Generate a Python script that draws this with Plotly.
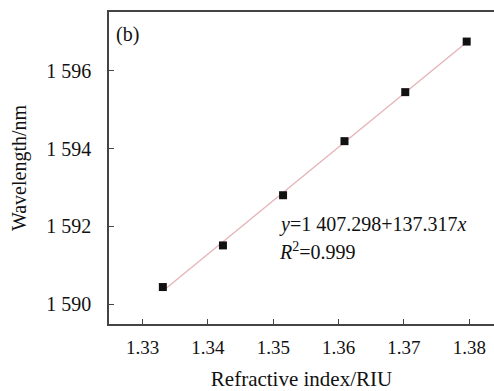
import numpy as np
import plotly.graph_objects as go

refractive_index = [1.3331, 1.3423, 1.3515, 1.3609, 1.3702, 1.3796]
wavelength = [1590.44, 1591.51, 1592.80, 1594.19, 1595.45, 1596.75]

x_tickvals = [1.33, 1.34, 1.35, 1.36, 1.37, 1.38]
x_ticktext = ["1.33", "1.34", "1.35", "1.36", "1.37", "1.38"]
y_tickvals = [1590, 1592, 1594, 1596]
y_ticktext = ["1 590", "1 592", "1 594", "1 596"]

slope, intercept = np.polyfit(refractive_index, wavelength, 1)
fit_x = np.array([refractive_index[0], refractive_index[-1]])
fit_y = intercept + slope * fit_x

font = "Liberation Serif"
axis_color = "#444444"

fig = go.Figure()
fig.add_trace(go.Scatter(x=fit_x, y=fit_y, mode="lines",
                         line=dict(color="#e6b3b8", width=1.3), showlegend=False))
fig.add_trace(go.Scatter(x=refractive_index, y=wavelength, mode="markers",
                         marker=dict(symbol="square", size=8, color="#111111"),
                         showlegend=False))

fig.update_layout(
    width=494, height=391,
    margin=dict(l=109, r=0, t=12, b=67),
    plot_bgcolor="white", paper_bgcolor="white",
    font=dict(family=font, size=20, color="#111111"),
    xaxis=dict(range=[1.32486, 1.38378], tickvals=x_tickvals, ticktext=x_ticktext,
               ticks="inside", ticklen=5, tickwidth=1.3, tickcolor=axis_color,
               showline=True, linecolor=axis_color, linewidth=1.5, mirror=True,
               showgrid=False, zeroline=False,
               tickfont=dict(family=font, size=19),
               title=dict(text="Refractive index/RIU", font=dict(family=font, size=21), standoff=15),
               ticklabelstandoff=5),
    yaxis=dict(range=[1589.49, 1597.51], tickvals=y_tickvals, ticktext=y_ticktext,
               ticks="inside", ticklen=5, tickwidth=1.3, tickcolor=axis_color,
               showline=True, linecolor=axis_color, linewidth=1.5, mirror=False,
               showgrid=False, zeroline=False,
               tickfont=dict(family=font, size=20),
               title=dict(text="Wavelength/nm", font=dict(family=font, size=20), standoff=14),
               ticklabelstandoff=12),
    annotations=[
        dict(text="(b)", x=1.3256, y=1596.92,
             xanchor="left", yanchor="middle", showarrow=False,
             font=dict(family=font, size=20)),
        dict(text="<i>y</i>=1 407.298+137.317<i>x</i>", x=1.3506, y=1592.04,
             xanchor="left", yanchor="middle", showarrow=False,
             font=dict(family=font, size=20)),
        dict(text="<i>R</i><sup>2</sup>=0.999", x=1.3506, y=1591.36,
             xanchor="left", yanchor="middle", showarrow=False,
             font=dict(family=font, size=20)),
    ],
)

fig.write_html("out.html")
